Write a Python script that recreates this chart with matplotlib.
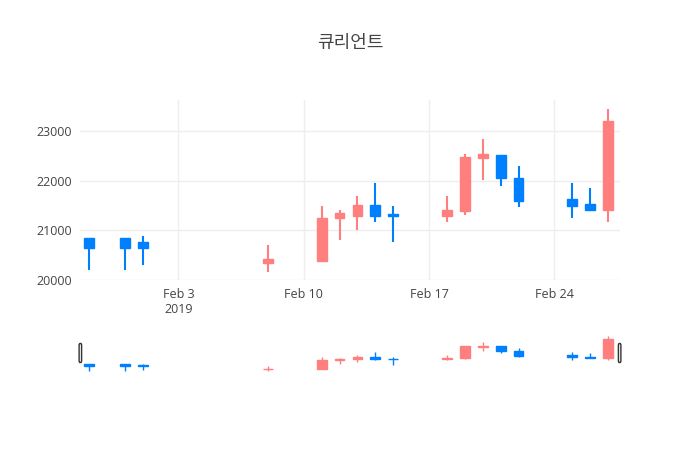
import matplotlib
matplotlib.use("Agg")
import matplotlib.pyplot as plt
import matplotlib.dates as mdates
import numpy as np
import datetime as dt

dates = ["2019-01-29","2019-01-31","2019-02-01","2019-02-08","2019-02-11","2019-02-12","2019-02-13",
         "2019-02-14","2019-02-15","2019-02-18","2019-02-19","2019-02-20","2019-02-21","2019-02-22",
         "2019-02-25","2019-02-26","2019-02-27"]
opens  = [20845,20845,20765,20340,20380,21250,21290,21510,21330,21290,21390,22455,22515,22050,21630,21530,21410]
highs  = [20845,20845,20885,20700,21490,21400,21690,21950,21490,21690,22535,22840,22515,22290,21950,21850,23440]
lows   = [20200,20200,20300,20160,20380,20800,21000,21170,20760,21170,21310,22010,21890,21470,21250,21410,21170]
closes = [20645,20645,20645,20420,21250,21350,21510,21290,21290,21410,22475,22535,22050,21590,21490,21410,23200]

plt.rcParams['font.family'] = ['Open Sans', 'Noto Sans CJK KR', 'DejaVu Sans']
UP, DOWN = "#ff7f7f", "#007fff"
fig = plt.figure(figsize=(7, 4.5), dpi=100)
ax = fig.add_axes([80/700, 1-280/450, 540/700, 180/450])
rs = fig.add_axes([80/700, 1-372/450, 540/700, 38/450])

x = mdates.date2num([dt.datetime.strptime(d, "%Y-%m-%d") for d in dates])
xlim = (mdates.date2num(dt.datetime(2019,1,28,12)), mdates.date2num(dt.datetime(2019,2,27,16)))

def draw(a, lw_w, w):
    for xi, o, h, l, c in zip(x, opens, highs, lows, closes):
        col = UP if c >= o else DOWN
        a.vlines(xi, l, h, color=col, lw=lw_w, zorder=3)
        a.bar(xi, max(abs(c-o), 20), bottom=min(o, c), width=w, color=col, edgecolor=col, lw=1, zorder=3)

draw(ax, 1.5, 0.55)
draw(rs, 1.0, 0.55)
ax.set_xlim(*xlim); rs.set_xlim(*xlim)
ax.set_ylim(20000, 23620)
rs.set_ylim(20100, 23620)
ax.set_yticks([20000, 21000, 22000, 23000])
ax.grid(True, color="#eeeeee", lw=1, zorder=0)
ax.set_axisbelow(True)
ticks = [dt.datetime(2019,2,3), dt.datetime(2019,2,10), dt.datetime(2019,2,17), dt.datetime(2019,2,24)]
ax.set_xticks(mdates.date2num(ticks))
ax.set_xticklabels(["Feb 3\n2019", "Feb 10", "Feb 17", "Feb 24"])
for s in ax.spines.values(): s.set_visible(False)
ax.tick_params(length=0, labelsize=9, colors="#444444", pad=6)
for lab in ax.get_xticklabels(): lab.set_verticalalignment("top")

rs.set_xticks([]); rs.set_yticks([])
for s in rs.spines.values(): s.set_visible(False)
rs.patch.set_facecolor("white")
from matplotlib.patches import FancyBboxPatch
for hx in (xlim[0]+0.02, xlim[1]-0.02):
    rs.add_patch(FancyBboxPatch((hx-0.07, 0.25), 0.14, 0.5, transform=rs.get_xaxis_transform(),
                 boxstyle="round,pad=0,rounding_size=0.05", fc="#f2f2f2", ec="#333333", lw=1, zorder=5, clip_on=False))

fig.text(0.5, 1-43/450, "큐리언트", ha="center", va="center", fontsize=13, color="#444444")
fig.savefig("out.png")
